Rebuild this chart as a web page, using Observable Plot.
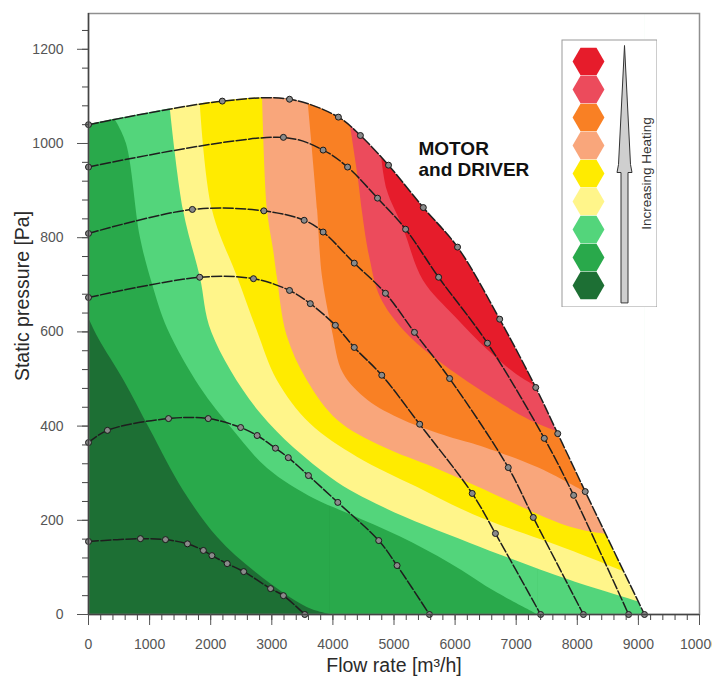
<!DOCTYPE html>
<html>
<head>
<meta charset="utf-8">
<script src="https://cdn.jsdelivr.net/npm/d3@7"></script>
<script src="https://cdn.jsdelivr.net/npm/@observablehq/plot@0.6"></script>
<style>
  body { margin: 0; background: #fff; }
  #wrap { position: relative; width: 712px; height: 678px; font-family: "Liberation Sans", Arial, sans-serif; }
  #legend { position: absolute; left: 561px; top: 39px; }
  svg { display: block; }
</style>
</head>
<body>
<div id="wrap"><div id="chart"></div><div id="legend"></div></div>
<script>
// ---------- Tick labels ----------
const xTicks = [0, 1000, 2000, 3000, 4000, 5000, 6000, 7000, 8000, 9000, 10000];
const yTicks = [0, 200, 400, 600, 800, 1000, 1200];
const xTitle = "Flow rate [m³/h]";
const yTitle = "Static pressure [Pa]";
const annotation = "MOTOR\nand DRIVER";
const legendTitle = "Increasing Heating";

// ---------- Heating levels (lowest -> highest) ----------
const heatLevels = ["L1", "L2", "L3", "L4", "L5", "L6", "L7", "L8", "L9"];
const heatColors = ["#1d6f34", "#29a94b", "#53d57b", "#fff58a", "#ffeb00", "#f9a67b", "#f98024", "#ec4b5c", "#e61c2b"];

// ---------- Fan curves [flow m3/h, pressure Pa] ----------
const curve1040 = [[0,1040],[2190,1090],[3290,1094],[4090,1056],[4450,1017],[4910,954],[5480,864],[6040,780],[6730,627],[7320,482],[7680,384],[8130,261],[9100,0]];
const curve950  = [[0,950],[3190,1013],[3840,986],[4240,950],[4730,884],[5190,818],[5730,716],[6530,576],[7460,374],[7940,253],[8840,0]];
const curve810  = [[0,809],[1700,860],[2870,857],[3530,837],[3840,812],[4350,746],[4860,682],[5335,599],[5910,501],[6870,312],[7280,206],[8100,0]];
const curve675  = [[0,673],[1820,716],[2700,713],[3290,688],[3630,660],[4040,614],[4350,567],[4800,508],[5420,404],[6280,257],[6660,172],[7400,0]];
const curve365  = [[0,365],[310,391],[1310,416],[1960,416],[2490,397],[2760,380],[3060,353],[3270,333],[3600,295],[4080,238],[4750,157],[5050,104],[5580,0]];
const curve155  = [[0,155],[850,161],[1260,159],[1620,150],[1880,136],[2020,125],[2270,108],[2540,91],[2980,55],[3190,40],[3540,0]];

// ---------- Heating zone boundaries (lower level | upper level) ----------
const bound1 = [[0,630],[170,585],[580,497],[1015,391],[1555,263],[2110,164],[2760,87],[3580,15],[3960,0]];
const bound2 = [[430,1052],[620,1000],[850,800],[1050,700],[1300,605],[1830,482],[2370,391],[2930,310],[3700,245],[4290,212],[5100,165],[5925,108],[6700,45],[7350,0]];
const bound3 = [[1340,1072],[1555,858],[1830,716],[2020,598],[2820,426],[3960,291],[4830,227],[6250,151],[7890,72],[9020,26]];
const bound4 = [[1830,1083],[2030,858],[2440,716],[2760,603],[3090,497],[3630,405],[4400,334],[5380,270],[6300,212],[7890,136],[8780,90]];
const bound5 = [[2850,1094],[2930,858],[3030,773],[3090,716],[3250,592],[3580,497],[4080,412],[4830,355],[5650,312],[6300,275],[7890,185],[8470,170]];
const bound6 = [[3600,1081],[3750,858],[3790,773],[3830,716],[3990,603],[4170,512],[4570,455],[5160,412],[5920,376],[6300,362],[7350,312],[8150,258]];
const bound7 = [[4290,1035],[4420,922],[4480,858],[4600,760],[4780,673],[5160,603],[5650,546],[6415,476],[7230,412],[7720,386]];
const bound8 = [[4800,969],[4890,900],[5160,818],[5480,709],[6000,632],[6530,562],[7000,510],[7350,482]];

// ---------- Build ----------
const toPts = (a) => a.map(([x, y]) => ({x, y}));
const fanCurves = [curve1040, curve950, curve810, curve675, curve365, curve155];
const fanData = fanCurves.flatMap((c, i) => c.map(([x, y]) => ({curve: i, x, y})));
const envelope = toPts(curve1040);
const boundaries = [bound1, bound2, bound3, bound4, bound5, bound6, bound7, bound8];
const xMax = xTicks[xTicks.length - 1];
const yMax = 1276;
const CURVE = "catmull-rom";

const zoneMarks = [Plot.areaY(envelope, {x: "x", y: "y", fill: heatColors[0], curve: CURVE})];
boundaries.forEach((b, i) => {
  const pts = toPts(b);
  const fill = heatColors[i + 1];
  zoneMarks.push(Plot.areaY(pts, {x: "x", y1: "y", y2: () => yMax, fill, curve: CURVE}));
  const last = pts[pts.length - 1];
  if (last.y === 0) {
    zoneMarks.push(Plot.rect([last], {x1: "x", x2: () => envelope[envelope.length - 1].x, y1: 0, y2: () => yMax, fill}));
  }
});
// white cover above the envelope curve
zoneMarks.push(Plot.areaY(envelope, {x: "x", y1: "y", y2: () => yMax, fill: "white", curve: CURVE}));

const chart = Plot.plot({
  width: 712,
  height: 678,
  marginLeft: 88,
  marginRight: 13,
  marginTop: 13,
  marginBottom: 64,
  style: {fontFamily: "Liberation Sans, Arial, sans-serif", background: "white"},
  x: {domain: [0, xMax]},
  y: {domain: [0, yMax]},
  marks: [
    ...zoneMarks,
    Plot.line(fanData, {x: "x", y: "y", z: "curve", stroke: "#1e1e1e", strokeWidth: 1.5, strokeDasharray: "10,2.5", curve: CURVE}),
    Plot.dot(fanData, {x: "x", y: "y", r: 3, fill: "#8a8a8a", stroke: "#1a1a1a", strokeWidth: 1}),
    Plot.frame({stroke: "#8f8f8f", strokeWidth: 1.5}),
    Plot.ruleX([0], {stroke: "#444", strokeWidth: 1.5}),
    Plot.ruleY([0], {stroke: "#444", strokeWidth: 1.5}),
    Plot.axisX({ticks: d3.range(0, xMax + 1, 200), tickSize: 6, tickFormat: () => "", label: null, stroke: "#444"}),
    Plot.axisX({ticks: xTicks, tickSize: 11, tickPadding: 14, tickFormat: "d", fontSize: 14, label: null, color: "#555"}),
    Plot.axisY({ticks: d3.range(0, yMax, 40), tickSize: 6, tickFormat: () => "", label: null, stroke: "#444"}),
    Plot.axisY({ticks: yTicks, tickSize: 11, tickPadding: 14, tickFormat: "d", fontSize: 14, label: null, color: "#555"}),
    Plot.text([xTitle], {text: d => d, frameAnchor: "bottom", dy: 51, textAnchor: "middle", lineAnchor: "middle", fontSize: 19.5, fill: "#2a2a2a"}),
    Plot.text([yTitle], {text: d => d, frameAnchor: "left", dx: -66, dy: -18, rotate: -90, textAnchor: "middle", lineAnchor: "middle", fontSize: 19.5, fill: "#2a2a2a"}),
    Plot.text([annotation], {text: d => d, frameAnchor: "top-left", dx: 330, dy: 127, textAnchor: "start", lineAnchor: "top", fontSize: 19, fontWeight: "bold", lineHeight: 1.1, fill: "#111"})
  ]
});
document.getElementById("chart").appendChild(chart);

// ---------- Legend ----------
const arrowShape = {
  draw(ctx, l) {
    const shaft = 3.5, headW = 6, flare = 7.5, headLen = 127;
    const b = -(l - headLen);
    ctx.moveTo(-shaft, 0);
    ctx.lineTo(-shaft, b);
    ctx.lineTo(-flare, b);
    ctx.lineTo(-headW, b - 8);
    ctx.lineTo(0, -l);
    ctx.lineTo(headW, b - 8);
    ctx.lineTo(flare, b);
    ctx.lineTo(shaft, b);
    ctx.lineTo(shaft, 0);
    ctx.closePath();
  }
};
const legendData = heatLevels.map((level, i) => ({level, color: heatColors[i]}));
const legend = Plot.plot({
  width: 96,
  height: 268,
  margin: 0,
  style: {fontFamily: "Liberation Sans, Arial, sans-serif", background: "white"},
  y: {type: "point", domain: heatLevels.slice().reverse(), range: [19, 249], padding: 0, axis: null},
  color: {type: "identity"},
  marks: [
    Plot.frame({stroke: "#9a9a9a", inset: 0.5}),
    Plot.dot(legendData, {y: "level", fill: "color", symbol: "hexagon", r: 13.8, rotate: 90, frameAnchor: "left", dx: 27, stroke: "none"}),
    Plot.vector([legendTitle], {frameAnchor: "bottom", dx: 15, dy: -5, length: 257, anchor: "start", shape: arrowShape, fill: "#cfcfcf", stroke: "#333", strokeWidth: 1}),
    Plot.text([legendTitle], {text: d => d, frameAnchor: "right", dx: -11, rotate: -90, textAnchor: "middle", lineAnchor: "middle", fontSize: 13.5, fill: "#333"})
  ]
});
document.getElementById("legend").appendChild(legend);
</script>
</body>
</html>
